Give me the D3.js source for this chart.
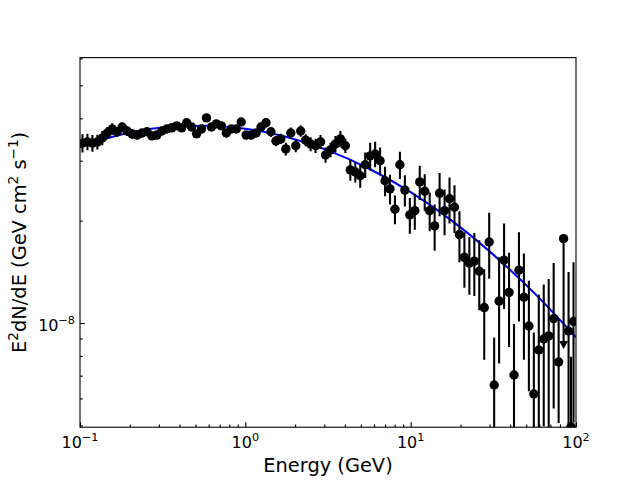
<!DOCTYPE html>
<html><head><meta charset="utf-8">
<script src="https://cdn.jsdelivr.net/npm/d3@7"></script>
<style>body{margin:0;background:#fff} svg{display:block} text{font-family:"DejaVu Sans",sans-serif;fill:#000}</style>
</head><body><svg id="c" width="640" height="480"></svg>
<script>
// ---- data ----
const energy = [0.1035,0.1109,0.1189,0.1274,0.1365,0.1462,0.1567,0.1679,0.1799,0.1928,
0.2065,0.2213,0.2371,0.2541,0.2723,0.2917,0.3126,0.3350,0.3589,0.3846,
0.4121,0.4416,0.4732,0.5070,0.5433,0.5821,0.6237,0.6683,0.7161,0.7674,
0.8222,0.8810,0.9441,1.0116,1.0839,1.1614,1.2445,1.3335,1.4289,1.5311,
1.6406,1.7579,1.8836,2.0184,2.1627,2.3174,2.4831,2.6607,2.8510,3.0549,
3.2734,3.5075,3.7584,4.0272,4.3152,4.6238,4.9545,5.3088,5.6885,6.0954,
6.5313,6.9984,7.4989,8.0353,8.6099,9.2257,9.8855,10.592,11.350,12.162,
13.032,13.964,14.962,16.032,17.179,18.408,19.724,21.135,22.646,24.266,
26.002,27.861,29.854,31.989,34.277,36.728,39.355,42.170,45.186,48.417,
51.880,55.590,59.566,63.826,68.391,73.282,78.524,84.140,90.157,93.3,96.605];
const flux = [3.38e-8,3.41e-8,3.38e-8,3.41e-8,3.50e-8,3.62e-8,3.72e-8,3.65e-8,3.77e-8,3.67e-8,
3.60e-8,3.57e-8,3.62e-8,3.65e-8,3.55e-8,3.57e-8,3.67e-8,3.72e-8,3.75e-8,3.80e-8,
3.75e-8,3.88e-8,3.77e-8,3.60e-8,3.72e-8,4.01e-8,3.77e-8,3.85e-8,3.80e-8,3.62e-8,
3.72e-8,3.72e-8,3.90e-8,3.57e-8,3.57e-8,3.62e-8,3.77e-8,3.88e-8,3.65e-8,3.43e-8,
3.48e-8,3.25e-8,3.62e-8,3.32e-8,3.67e-8,3.45e-8,3.36e-8,3.32e-8,3.41e-8,3.12e-8,
3.23e-8,3.36e-8,3.48e-8,3.32e-8,2.82e-8,2.78e-8,2.71e-8,2.92e-8,3.10e-8,3.14e-8,
3.00e-8,2.62e-8,2.48e-8,2.16e-8,2.92e-8,2.46e-8,2.08e-8,2.14e-8,2.60e-8,2.44e-8,
2.14e-8,1.93e-8,2.41e-8,2.14e-8,2.32e-8,2.19e-8,1.82e-8,1.56e-8,1.50e-8,1.52e-8,
1.42e-8,1.11e-8,1.73e-8,0.657e-8,1.16e-8,1.53e-8,1.23e-8,0.703e-8,1.43e-8,1.19e-8,
0.98e-8,0.618e-8,0.833e-8,0.897e-8,0.916e-8,1.03e-8,0.768e-8,1.77e-8,0.947e-8,0.495e-8,1.01e-8];
const fluxErr = [0.21e-8,0.19e-8,0.19e-8,0.17e-8,0.17e-8,0.15e-8,0.15e-8,0.12e-8,0.12e-8,0.12e-8,
0.12e-8,0.10e-8,0.10e-8,0.10e-8,0.10e-8,0.10e-8,0.10e-8,0.10e-8,0.10e-8,0.10e-8,
0.10e-8,0.10e-8,0.10e-8,0.10e-8,0.10e-8,0.10e-8,0.10e-8,0.10e-8,0.10e-8,0.10e-8,
0.10e-8,0.10e-8,0.10e-8,0.10e-8,0.10e-8,0.10e-8,0.12e-8,0.12e-8,0.12e-8,0.12e-8,
0.12e-8,0.14e-8,0.14e-8,0.14e-8,0.14e-8,0.14e-8,0.16e-8,0.16e-8,0.16e-8,0.16e-8,
0.16e-8,0.19e-8,0.19e-8,0.16e-8,0.20e-8,0.19e-8,0.21e-8,0.25e-8,0.29e-8,0.27e-8,
0.28e-8,0.26e-8,0.25e-8,0.21e-8,0.27e-8,0.26e-8,0.25e-8,0.26e-8,0.30e-8,0.30e-8,
0.28e-8,0.30e-8,0.35e-8,0.33e-8,0.36e-8,0.35e-8,0.31e-8,0.29e-8,0.29e-8,0.32e-8,
0.33e-8,0.33e-8,0.38e-8,0.25e-8,0.40e-8,0.43e-8,0.38e-8,0.29e-8,0.42e-8,0.41e-8,
0.35e-8,0.32e-8,0.38e-8,0.40e-8,0.43e-8,0.47e-8,0.26e-8,0.885e-8,0.466e-8,0.30e-8,0.50e-8];
const upperLimitEnergies = [84.140];

const modelEnergy = [0.1,0.178,0.316,0.562,1,1.78,3.16,5.62,10,17.8,31.6,56.2,100];
const modelFlux = [3.300e-8,3.582e-8,3.756e-8,3.804e-8,3.726e-8,3.525e-8,3.219e-8,2.841e-8,2.424e-8,1.997e-8,1.589e-8,1.222e-8,0.908e-8];

const xMajorTicks = [0.1,1,10,100];
const xTickExponents = ["\u22121","0","1","2"];
const yMajorTicks = [1e-8];
const yTickExponents = ["\u22128"];

// ---- layout ----
const W=640,H=480,L=80,R=576,T=57.6,B=427.2;
const x=d3.scaleLog().domain([0.1,100]).range([L,R]);
const y=d3.scaleLog().domain([4.937e-9,6.033e-8]).range([B,T]);
const svg=d3.select('#c');
svg.append('rect').attr('width',W).attr('height',H).attr('fill','#fff');
svg.append('defs').append('clipPath').attr('id','clip')
  .append('rect').attr('x',L).attr('y',T).attr('width',R-L).attr('height',B-T);
const g=svg.append('g').attr('clip-path','url(#clip)');

// model
g.append('path')
  .datum(modelEnergy.map((e,i)=>[e,modelFlux[i]]))
  .attr('d',d3.line().x(d=>x(d[0])).y(d=>y(d[1])).curve(d3.curveMonotoneX))
  .attr('fill','none').attr('stroke','#0000ff').attr('stroke-width',2.08);

// data
const pts=energy.map((e,i)=>({e,f:flux[i],s:fluxErr[i],ul:upperLimitEnergies.includes(e)}));
const yy=v=>v>0?y(v):B+60;
g.selectAll('line.eb').data(pts).join('line').attr('class','eb')
  .attr('x1',d=>x(d.e)).attr('x2',d=>x(d.e))
  .attr('y1',d=>yy(d.f-d.s)).attr('y2',d=>d.ul?y(d.f):yy(d.f+d.s))
  .attr('stroke','#000').attr('stroke-width',2.08);
g.selectAll('path.ul').data(pts.filter(d=>d.ul)).join('path').attr('class','ul')
  .attr('d',d=>{const cx=x(d.e),cy=y(d.f-d.s);return `M${cx-4.5},${cy}L${cx+4.5},${cy}L${cx},${cy+8}Z`;})
  .attr('fill','#000');
g.selectAll('circle').data(pts).join('circle')
  .attr('cx',d=>x(d.e)).attr('cy',d=>y(d.f)).attr('r',4.7).attr('fill','#000');

// frame
svg.append('rect').attr('x',L).attr('y',T).attr('width',R-L).attr('height',B-T)
  .attr('fill','none').attr('stroke','#000').attr('stroke-width',1.1);

// ticks
const xMinor=x.ticks().filter(v=>!xMajorTicks.some(m=>Math.abs(m-v)/m<1e-6));
const yMinor=y.ticks().filter(v=>!yMajorTicks.some(m=>Math.abs(m-v)/m<1e-6));
function axisG(ax,tr){const a=svg.append('g').attr('transform',tr).call(ax);a.select('.domain').remove();a.selectAll('line').attr('stroke','#000').attr('stroke-width',1.1);return a;}
axisG(d3.axisBottom(x).tickValues(xMajorTicks).tickSizeInner(-4.9).tickSizeOuter(0).tickFormat(''),`translate(0,${B})`);
axisG(d3.axisBottom(x).tickValues(xMinor).tickSizeInner(-2.8).tickSizeOuter(0).tickFormat(''),`translate(0,${B})`);
axisG(d3.axisLeft(y).tickValues(yMajorTicks).tickSizeInner(-4.9).tickSizeOuter(0).tickFormat(''),`translate(${L},0)`);
axisG(d3.axisLeft(y).tickValues(yMinor).tickSizeInner(-2.8).tickSizeOuter(0).tickFormat(''),`translate(${L},0)`);

// tick labels
xMajorTicks.forEach((v,i)=>{
  const t=svg.append('text').attr('x',x(v)).attr('y',448).attr('text-anchor','middle').attr('font-size',16);
  t.append('tspan').text('10');
  t.append('tspan').attr('dy',-7).attr('font-size',11.2).text(xTickExponents[i]);
});
yMajorTicks.forEach((v,i)=>{
  const t=svg.append('text').attr('x',75).attr('y',y(v)+8).attr('text-anchor','end').attr('font-size',16);
  t.append('tspan').text('10');
  t.append('tspan').attr('dy',-7).attr('font-size',11.2).text(yTickExponents[i]);
});

// axis labels
svg.append('text').attr('x',(L+R)/2).attr('y',472).attr('text-anchor','middle').attr('font-size',19.4).text('Energy (GeV)');
const yl=svg.append('text').attr('transform',`translate(26,${(T+B)/2}) rotate(-90)`).attr('text-anchor','middle').attr('font-size',19.4);
yl.append('tspan').text('E');
yl.append('tspan').attr('dy',-8).attr('font-size',13.6).text('2');
yl.append('tspan').attr('dy',8).text('dN/dE (GeV cm');
yl.append('tspan').attr('dy',-8).attr('font-size',13.6).text('2');
yl.append('tspan').attr('dy',8).text(' s');
yl.append('tspan').attr('dy',-8).attr('font-size',13.6).text('\u22121');
yl.append('tspan').attr('dy',8).text(')');
</script></body></html>
